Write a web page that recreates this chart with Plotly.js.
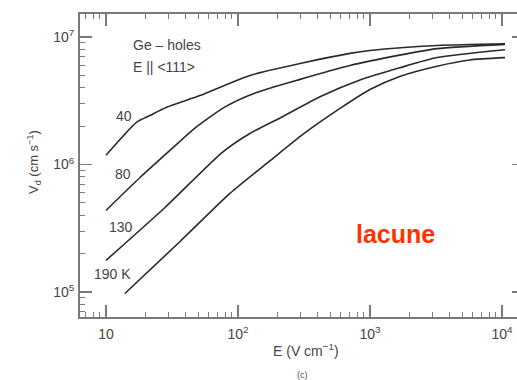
<!DOCTYPE html>
<html>
<head>
<meta charset="utf-8">
<script src="https://cdn.plot.ly/plotly-3.0.1.min.js"></script>
<style>html,body{margin:0;padding:0;background:#fff;}#chart{width:517px;height:380px;}</style>
</head>
<body>
<div id="chart"></div>
<script>
// Drift velocity of holes in Ge (E parallel to <111>), log-log
const T40_E  = [10, 17.1, 21.5, 28.8, 51.5, 123, 295, 705, 1000, 3220, 10550];
const T40_V  = [1.18e6, 2.15e6, 2.42e6, 2.81e6, 3.47e6, 4.99e6, 6.19e6, 7.43e6, 7.83e6, 8.58e6, 8.85e6];
const T80_E  = [10, 18.1, 30.5, 47.2, 79.8, 135, 295, 705, 1680, 3220, 10550];
const T80_V  = [4.36e5, 7.9e5, 1.29e6, 1.93e6, 2.83e6, 3.64e6, 4.65e6, 5.97e6, 7.2e6, 8.1e6, 8.75e6];
const T130_E = [10, 28, 75.7, 123, 219, 418, 840, 1680, 3220, 10550];
const T130_V = [1.77e5, 4.6e5, 1.24e6, 1.75e6, 2.38e6, 3.4e6, 4.6e6, 5.73e6, 6.9e6, 7.94e6];
const T190_E = [13.9, 36.4, 86.9, 175, 310, 593, 1000, 1680, 3220, 5700, 10550];
const T190_V = [9.73e4, 2.49e5, 5.93e5, 1.07e6, 1.72e6, 2.75e6, 3.87e6, 4.9e6, 5.9e6, 6.6e6, 6.88e6];

const X_TICKS = [10, 100, 1000, 10000];
const X_TICKTEXT = ['10', '10<sup>2</sup>', '10<sup>3</sup>', '10<sup>4</sup>'];
const Y_TICKS = [1e5, 1e6, 1e7];
const Y_TICKTEXT = ['10<sup>5</sup>', '10<sup>6</sup>', '10<sup>7</sup>'];
const CURVE_LABELS = ['40', '80', '130', '190 K'];

function minorVals(d0, d1) {
  const out = [];
  for (let d = d0; d <= d1; d++) for (let k = 2; k <= 9; k++) out.push(k * Math.pow(10, d));
  return out;
}

const W = 517, H = 380;
const M = {l: 80, r: 0, t: 14, b: 63};
const PW = W - M.l - M.r, PH = H - M.t - M.b;
const px = x => (x - M.l) / PW;
const py = y => (H - M.b - y) / PH;

const lineStyle = {color: '#2a2a2a', width: 1.6, shape: 'spline', smoothing: 0.6};
const series = [[T40_E, T40_V], [T80_E, T80_V], [T130_E, T130_V], [T190_E, T190_V]];
const traces = series.map((s, i) => ({
  x: s[0], y: s[1], type: 'scatter', mode: 'lines', line: lineStyle,
  name: CURVE_LABELS[i], hoverinfo: 'skip'
}));
traces.push({x: [10], y: [1e6], yaxis: 'y2', type: 'scatter', mode: 'markers',
  marker: {opacity: 0}, showlegend: false, hoverinfo: 'skip'});

const FAM = 'Liberation Sans, Arial, sans-serif';
const axisFont = {family: FAM, size: 14, color: '#444'};
const axCol = '#7a7a7a';

const layout = {
  width: W, height: H,
  margin: M,
  paper_bgcolor: '#fff', plot_bgcolor: '#fff',
  showlegend: false,
  font: {family: FAM, color: '#444'},
  xaxis: {
    type: 'log', range: [0.803, 4.114],
    tickmode: 'array', tickvals: X_TICKS, ticktext: X_TICKTEXT,
    ticks: 'inside', ticklen: 12, tickwidth: 1.5, tickcolor: axCol,
    showline: true, linewidth: 2, linecolor: axCol, mirror: 'ticks',
    showgrid: false, zeroline: false, tickfont: axisFont, ticklabelstandoff: 3,
    minor: {tickmode: 'array', tickvals: minorVals(0, 4), ticks: 'inside', ticklen: 5, tickwidth: 1, tickcolor: axCol, showgrid: false}
  },
  yaxis: {
    type: 'log', range: [4.804, 7.180],
    tickmode: 'array', tickvals: Y_TICKS, ticktext: Y_TICKTEXT,
    ticks: 'inside', ticklen: 12, tickwidth: 1.5, tickcolor: axCol,
    showline: true, linewidth: 2, linecolor: axCol, mirror: false,
    showgrid: false, zeroline: false, tickfont: axisFont, ticklabelstandoff: 1,
    minor: {tickmode: 'array', tickvals: minorVals(4, 7), ticks: 'inside', ticklen: 5, tickwidth: 1, tickcolor: axCol, showgrid: false}
  },
  yaxis2: {
    type: 'log', range: [4.804, 7.180], overlaying: 'y', side: 'right',
    tickmode: 'array', tickvals: Y_TICKS,
    ticks: 'inside', ticklen: 5, tickwidth: 1.5, tickcolor: axCol,
    showline: false, showgrid: false, zeroline: false, showticklabels: false
  },
  annotations: [
    {text: 'Ge – holes', x: px(131), y: py(45), xanchor: 'left'},
    {text: 'E || &lt;111&gt;', x: px(131), y: py(67), xanchor: 'left'},
    {text: CURVE_LABELS[0], x: px(124), y: py(116)},
    {text: CURVE_LABELS[1], x: px(123), y: py(174)},
    {text: CURVE_LABELS[2], x: px(121), y: py(227)},
    {text: CURVE_LABELS[3], x: px(112), y: py(274)},
    {text: 'E (V cm<sup>−1</sup>)', x: px(306), y: py(350), font: {family: FAM, size: 14, color: '#444'}},
    {text: '(c)', x: px(302), y: py(375), font: {family: FAM, size: 9, color: '#555'}},
    {text: 'V<sub>d</sub> (cm s<sup>−1</sup>)', x: px(34), y: py(162), textangle: -90, font: {family: FAM, size: 13, color: '#444'}},
    {text: '<b>lacune</b>', x: px(395), y: py(234), font: {family: FAM, size: 25, color: '#ff3300'}}
  ].map(a => Object.assign({xref: 'paper', yref: 'paper', showarrow: false, xanchor: 'center', yanchor: 'middle',
    font: {family: FAM, size: 14, color: '#444'}}, a))
};

Plotly.newPlot('chart', traces, layout, {staticPlot: true, displayModeBar: false});
</script>
</body>
</html>
